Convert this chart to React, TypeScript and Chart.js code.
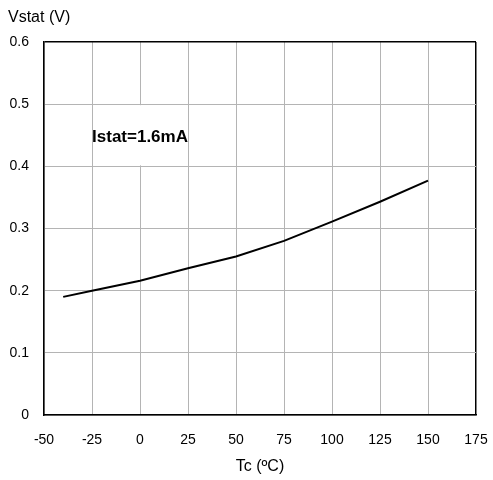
import React, { useEffect, useRef } from "react";
import { Chart, registerables } from "chart.js";

Chart.register(...registerables);

const tempC = [-40, -25, 0, 25, 50, 75, 100, 125, 150];
const vstat = [0.19, 0.2, 0.216, 0.236, 0.255, 0.28, 0.311, 0.343, 0.377];
const xMin = -50;
const xMax = 175;
const xStep = 25;
const yMin = 0;
const yMax = 0.6;
const yStep = 0.1;
const noteText = "Istat=1.6mA";
const noteBoxX = [-25, 25];
const noteBoxY = [0.4, 0.5];

const FONT = "'Liberation Sans', Arial, sans-serif";

const notePlugin = {
  id: "notePlugin",
  afterDatasetsDraw(chart: any) {
    const { ctx, scales } = chart;
    const x = scales.x;
    const y = scales.y;
    const x0 = x.getPixelForValue(noteBoxX[0]);
    const x1 = x.getPixelForValue(noteBoxX[1]);
    const y0 = y.getPixelForValue(noteBoxY[1]);
    const y1 = y.getPixelForValue(noteBoxY[0]);
    ctx.save();
    ctx.fillStyle = "#ffffff";
    ctx.fillRect(x0 + 1, y0 + 1, x1 - x0 - 2, y1 - y0 - 2);
    ctx.fillStyle = "#000000";
    ctx.font = `bold 17px ${FONT}`;
    ctx.textAlign = "center";
    ctx.textBaseline = "middle";
    ctx.fillText(noteText, (x0 + x1) / 2, (y0 + y1) / 2 + 2);
    ctx.restore();
  },
};

export default function App() {
  const ref = useRef<HTMLCanvasElement>(null);
  useEffect(() => {
    if (!ref.current) return;
    const chart = new Chart(ref.current, {
      type: "line",
      data: {
        datasets: [
          {
            data: tempC.map((t, i) => ({ x: t, y: vstat[i] })),
            borderColor: "#000000",
            borderWidth: 2,
            pointRadius: 0,
            tension: 0,
            fill: false,
          },
        ],
      },
      options: {
        animation: false,
        responsive: true,
        maintainAspectRatio: false,
        layout: { padding: { left: 8, right: 6, top: 0, bottom: 3.4 } },
        plugins: {
          legend: { display: false },
          tooltip: { enabled: false },
          title: {
            display: true,
            text: "Vstat (V)",
            align: "start",
            color: "#000",
            font: { family: FONT, size: 16, weight: "normal" },
            padding: { top: 8.4, bottom: 14.4 },
          },
        },
        scales: {
          x: {
            type: "linear",
            min: xMin,
            max: xMax,
            afterFit: (s: any) => {
              s.height = 61.6;
              s.paddingRight = 17;
              s.paddingLeft = 12;
            },
            ticks: { stepSize: xStep, color: "#000", padding: 17, font: { family: FONT, size: 14 } },
            grid: {
              drawTicks: false,
              color: (c: any) => (c.tick && c.tick.value === xMax ? "#000" : "#b4b4b4"),
              lineWidth: (c: any) => (c.tick && c.tick.value === xMax ? 1.5 : 1),
            },
            border: { color: "#000", width: 1.5 },
            title: {
              display: true,
              text: "Tc (ºC)",
              color: "#000",
              font: { family: FONT, size: 16 },
              padding: { top: 0, bottom: 0 },
            },
          },
          y: {
            type: "linear",
            min: yMin,
            max: yMax,
            afterFit: (s: any) => {
              s.width = 36;
            },
            ticks: {
              stepSize: yStep,
              color: "#000",
              padding: 15,
              font: { family: FONT, size: 14 },
              callback: (v: any) => (Math.abs(v) < 1e-9 ? "0" : Number(v).toFixed(1)),
            },
            grid: {
              drawTicks: false,
              color: (c: any) => (c.tick && Math.abs(c.tick.value - yMax) < 1e-9 ? "#000" : "#b4b4b4"),
              lineWidth: (c: any) => (c.tick && Math.abs(c.tick.value - yMax) < 1e-9 ? 1.5 : 1),
            },
            border: { color: "#000", width: 1.5 },
          },
        },
      },
      plugins: [notePlugin],
    });
    return () => chart.destroy();
  }, []);
  return (
    <div style={{ position: "absolute", left: 0, top: 0, width: 493, height: 480, background: "#fff" }}>
      <canvas ref={ref} />
    </div>
  );
}
